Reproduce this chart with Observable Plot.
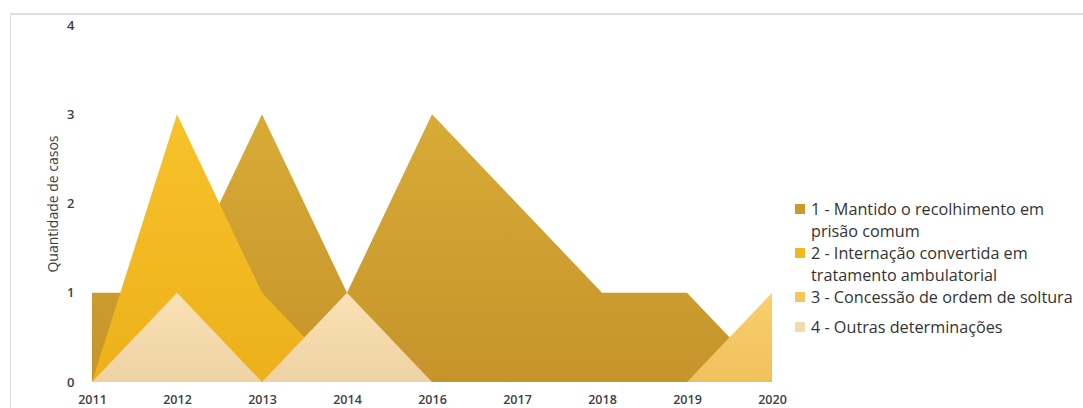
<!DOCTYPE html>
<html>
<head>
<meta charset="utf-8">
<script src="https://cdn.jsdelivr.net/npm/d3@7"></script>
<script src="https://cdn.jsdelivr.net/npm/@observablehq/plot@0.6"></script>
<style>
  html, body { margin: 0; padding: 0; background: #fff; }
  #wrap { position: relative; width: 1083px; height: 408px; overflow: hidden; font-family: "Open Sans", sans-serif; }
  #border { position: absolute; left: 10px; top: 13px; width: 1200px; height: 500px; border-left: 1px solid #dcdcdc; border-top: 2px solid #e2dede; }
  #chart { position: absolute; left: 0; top: 0; }
  #legend { position: absolute; left: 795px; top: 198px; font-size: 16.2px; color: #333; line-height: 22px; }
  .item { position: relative; padding-left: 16px; }
  .sw { position: absolute; left: 0; top: 6px; width: 10px; height: 10px; }
</style>
</head>
<body>
<div id="wrap">
  <div id="border"></div>
  <div id="chart"></div>
  <div id="legend"></div>
</div>
<script>
const years = ["2011", "2012", "2013", "2014", "2016", "2017", "2018", "2019", "2020"];
const mantido = [1, 1, 3, 1, 3, 2, 1, 1, 0];
const internacao = [0, 3, 1, 0, 0, 0, 0, 0, 0];
const concessao = [0, 0, 0, 0, 0, 0, 0, 0, 1];
const outras = [0, 1, 0, 1, 0, 0, 0, 0, 0];
const seriesNames = [
  "1 - Mantido o recolhimento em prisão comum",
  "2 - Internação convertida em tratamento ambulatorial",
  "3 - Concessão de ordem de soltura",
  "4 - Outras determinações"
];
const legendLines = [
  ["1 - Mantido o recolhimento em", "prisão comum"],
  ["2 - Internação convertida em", "tratamento ambulatorial"],
  ["3 - Concessão de ordem de soltura"],
  ["4 - Outras determinações"]
];
const yTicks = [0, 1, 2, 3, 4];
const yTitle = "Quantidade de casos";

const gradients = [
  ["g1", "#d8ab36", "#c6942b"],
  ["g2", "#f8c22a", "#ecb11a"],
  ["g3", "#facf6c", "#f0c05e"],
  ["g4", "#fbe1b6", "#eed2a4"]
];
const swatch = ["#c99a2e", "#f4b81c", "#f7c65a", "#f3d9ae"];

const allSeries = [mantido, internacao, concessao, outras];
const table = allSeries.map((vals, i) => years.map((y, j) => ({year: y, value: vals[j], series: seriesNames[i]})));

const plot = Plot.plot({
  width: 1083,
  height: 408,
  marginLeft: 91,
  marginRight: 311,
  marginTop: 25,
  marginBottom: 26,
  style: {background: "transparent", fontFamily: "Open Sans, sans-serif"},
  x: {type: "point", domain: years, padding: 0, label: null},
  y: {domain: [0, 4], label: null},
  marks: [
    ...table.map((d, i) => Plot.areaY(d, {x: "year", y1: 0, y2: "value", fill: `url(#${gradients[i][0]})`, curve: "linear"})),
    Plot.axisY({ticks: yTicks, tickSize: 0, tickPadding: 17, tickFormat: d3.format("d"), fontSize: 13, fontWeight: 600, fill: "#404040", label: null}),
    Plot.axisX({tickSize: 0, tickPadding: 13, fontSize: 12.5, fontWeight: 600, fill: "#404040", label: null}),
    Plot.text([yTitle], {frameAnchor: "left", textAnchor: "middle", rotate: -90, dx: -38, fontSize: 14, fill: "#404040"})
  ]
});

const svg = d3.select(plot);
const defs = svg.insert("defs", ":first-child");
gradients.forEach(([id, c1, c2]) => {
  const g = defs.append("linearGradient").attr("id", id).attr("x1", 0).attr("y1", 0).attr("x2", 0).attr("y2", 1);
  g.append("stop").attr("offset", "0%").attr("stop-color", c1);
  g.append("stop").attr("offset", "100%").attr("stop-color", c2);
});
document.getElementById("chart").appendChild(plot);

const legend = d3.select("#legend");
legendLines.forEach((lines, i) => {
  const item = legend.append("div").attr("class", "item").style("margin-bottom", i === 2 ? "8px" : "0px");
  item.append("div").attr("class", "sw").style("background", swatch[i]);
  lines.forEach(t => item.append("div").text(t));
});
</script>
</body>
</html>
